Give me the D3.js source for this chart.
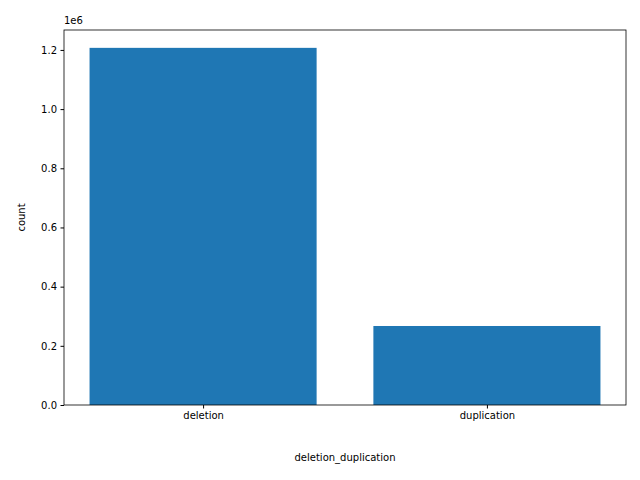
<!DOCTYPE html>
<html><head><meta charset="utf-8">
<script src="https://cdn.jsdelivr.net/npm/d3@7"></script>
<style>body{margin:0;background:#fff}text{font-family:"DejaVu Sans",sans-serif}</style>
</head><body>
<svg id="c" width="640" height="480"></svg>
<script>
const categories = ["deletion", "duplication"];
const counts = [1207000, 267000];
const yTicks = [0, 0.2e6, 0.4e6, 0.6e6, 0.8e6, 1.0e6, 1.2e6];

const svg = d3.select("#c");
const L = 64, R = 626, T = 30, B = 405;
const x = d3.scaleLinear().domain([-0.49, 1.49]).range([L, R]);
const ymax = d3.max(counts) * 1.05;
const y = d3.scaleLinear().domain([0, ymax]).range([B, T]);

svg.selectAll("rect.bar").data(counts).enter().append("rect")
  .attr("x", (d, i) => x(i - 0.4)).attr("width", x(0.8) - x(0))
  .attr("y", d => y(d)).attr("height", d => B - y(d)).attr("fill", "#1f77b4");

const ya = svg.append("g").attr("transform", `translate(${L},0)`)
  .call(d3.axisLeft(y).tickValues(yTicks).tickFormat(d => (d / 1e6).toFixed(1)).tickSize(3.5).tickPadding(3.5));
const xa = svg.append("g").attr("transform", `translate(0,${B})`)
  .call(d3.axisBottom(x).tickValues([0, 1]).tickFormat(i => categories[i]).tickSize(3.5).tickPadding(3.5));
[ya, xa].forEach(g => { g.selectAll("text").attr("font-size", 10).attr("fill", "#000"); g.select(".domain").remove(); });

svg.append("rect").attr("x", L).attr("y", T).attr("width", R - L).attr("height", B - T)
  .attr("fill", "none").attr("stroke", "#000").attr("stroke-width", 0.8);

svg.append("text").attr("x", L).attr("y", T - 6).attr("font-size", 10).text("1e6");
svg.append("text").attr("x", (L + R) / 2).attr("y", 461).attr("text-anchor", "middle").attr("font-size", 10).text("deletion_duplication");
svg.append("text").attr("transform", `translate(25,${(T + B) / 2}) rotate(-90)`).attr("text-anchor", "middle").attr("font-size", 10).text("count");
</script></body></html>
